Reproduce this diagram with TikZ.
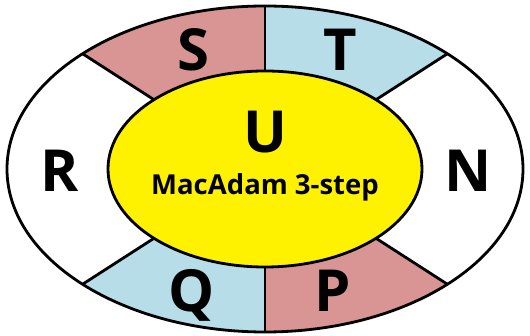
\documentclass[tikz,border=0pt]{standalone}
\usepackage{fontspec}
\setmainfont{Open Sans}
\usetikzlibrary{positioning}
\definecolor{sectpink}{HTML}{D99594}
\definecolor{sectblue}{HTML}{B7DEE8}
\begin{document}
\begin{tikzpicture}[x=1pt, y=1pt,
    outline/.style={draw=black, line width=2.8pt},
    letter/.style={font=\fontsize{58}{60}\selectfont\bfseries, inner sep=0pt, anchor=base},
    caption/.style={font=\fontsize{27.5}{30}\selectfont\bfseries, inner sep=0pt, anchor=base}]
    \useasboundingbox (-265,-167) rectangle (265,169);
    % coloured sectors of the ring
    \foreach \a/\b/\c in {45/90/sectblue, 90/135/sectpink, 225/270/sectblue, 270/315/sectpink}
        \fill[\c] (\a:258 and 163) arc[start angle=\a, end angle=\b, x radius=258, y radius=163]
            -- (\b:157 and 98) arc[start angle=\b, end angle=\a, x radius=157, y radius=98] -- cycle;
    % dividers
    \foreach \a in {45,90,135,225,270,315}
        \draw[outline] (\a:157 and 98) -- (\a:258 and 163);
    \draw[outline] (0,0) ellipse [x radius=258, y radius=163];
    \draw[outline, fill=yellow] (0,0) ellipse [x radius=157, y radius=98];

    \node[letter] (S) at (-72,98) {S};
    \node[letter] (T) at (75,98) {T};
    \node[letter] (R) at (-205,-23) {R};
    \node[letter] (N) at (203,-23) {N};
    \node[letter] (Q) at (-73,-143) {Q};
    \node[letter] (P) at (68,-143) {P};
    \node[letter] (U) at (0,16) {U};
    \node[caption] (macadam) at (0,-26) {MacAdam 3-step};
\end{tikzpicture}
\end{document}
